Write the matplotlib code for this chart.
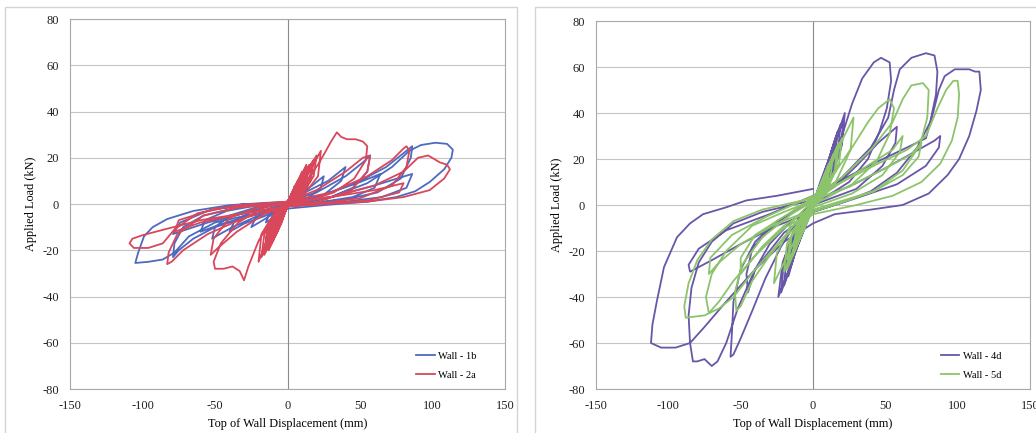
import numpy as np
import matplotlib.pyplot as plt
from matplotlib.patches import Rectangle

plt.rcParams['font.family'] = ['Liberation Serif', 'DejaVu Serif']
plt.rcParams['axes.unicode_minus'] = False

# hysteresis data: (displacement mm, load kN), in test order
wall_1b = [
    (0, 0), (3, 3), (6, 5), (8, 6), (7, 4), (4, 1.5), (0, 0), (-3, -2.5), (-6, -4), (-8, -5), (-7, -3), (-4, -1),
    (0, 0), (5, 4), (10, 7), (15, 10), (13, 6), (8, 2), (0, 0), (-5, -3.5), (-10, -6), (-15, -8), (-13, -5), (-7, -1.5),
    (0, 0), (8, 4), (17, 8), (25, 12), (23, 7), (14, 2.5), (0, -0.5), (-8, -3.5), (-17, -7), (-25, -10), (-22, -6), (-13, -2),
    (0, 0.5), (12, 5), (28, 10), (36, 14), (40, 16), (37, 10), (25, 4), (10, 1), (0, -1), (-15, -5), (-30, -8.5),
    (-40, -12), (-37, -8), (-25, -3), (-10, -0.5),
    (0, 1), (20, 5), (40, 12), (52, 18), (57, 21), (55, 14), (45, 7), (28, 2.5), (0, -1), (-20, -5), (-38, -10),
    (-48, -13.5), (-52, -15), (-50, -10), (-40, -5), (-22, -1.5),
    (0, 1), (25, 4), (48, 9), (60, 12), (64, 13), (60, 7), (45, 3), (25, 1), (0, -1), (-25, -5), (-45, -8.5),
    (-60, -12), (-57, -7), (-42, -3), (-20, -0.5),
    (0, 1), (25, 4), (50, 10), (68, 16), (80, 22), (86, 25), (85, 20), (78, 11), (62, 5), (40, 2), (0, -1),
    (-25, -5), (-50, -10), (-65, -15), (-75, -20), (-79, -23), (-78, -17), (-72, -10), (-58, -5), (-35, -1.5),
    (0, 1), (30, 3), (60, 8), (78, 11.5), (86, 13), (82, 7), (65, 3), (40, 1), (0, -1), (-30, -4), (-55, -8),
    (-72, -11.5), (-79, -13), (-74, -8), (-55, -3), (-30, 0),
    (0, 0), (30, 3), (55, 9), (72, 16), (84, 23), (92, 25.5), (102, 26.5), (110, 26), (114, 23.5), (113, 20),
    (108, 15), (98, 9.5), (88, 5.5), (75, 3), (55, 1), (25, -0.5), (0, -2), (-25, -4.5), (-50, -8), (-68, -14),
    (-78, -21), (-86, -24), (-96, -25), (-105, -25.5), (-103, -21), (-99, -14), (-93, -10), (-83, -6.5),
    (-65, -3), (-40, -0.5), (-15, 0.5), (0, 1),
]

wall_2a = [
    (0, 0), (2, 3), (4, 6), (3, 3), (1, 1), (0, 0), (-2, -3), (-4, -7), (-3, -3), (-1, -1),
    (0, 0), (3, 4), (5, 8), (4, 4), (1, 1), (0, 0), (-3, -5), (-5, -9), (-4, -4), (-1, -1),
    (0, 0), (3, 5), (7, 9), (6, 5), (2, 1), (0, 0), (-3, -5), (-7, -11), (-6, -6), (-2, -1),
    (0, 0), (4, 6), (7, 10), (6, 6), (2, 1), (0, 0), (-3, -5), (-7, -12), (-6, -7), (-2, -1),
    (0, 0), (4, 6), (8, 11), (7, 6), (3, 1), (0, 0), (-4, -6), (-8, -13), (-7, -7), (-3, -1),
    (0, 0), (4, 6), (10, 13), (9, 7), (4, 2), (0, 0), (-4, -7), (-10, -15), (-9, -8), (-4, -2),
    (0, 0), (5, 7), (10, 14), (9, 8), (4, 2), (0, 0), (-4, -8), (-10, -16), (-9, -9), (-4, -2),
    (0, 0), (5, 6), (11, 14), (10, 8), (4, 2), (0, 0), (-5, -8), (-11, -17), (-10, -9), (-4, -2),
    (0, 1), (5, 7), (13, 16), (11, 9), (5, 2), (0, -1), (-5, -8), (-13, -19), (-11, -10), (-5, -2),
    (0, 1), (6, 8), (13, 17), (12, 10), (5, 2), (0, -1), (-5, -9), (-13, -20), (-12, -11), (-5, -3),
    (0, 1), (6, 7), (15, 17), (13, 9), (5, 2), (0, -1), (-6, -9), (-15, -20), (-13, -11), (-5, -2),
    (0, 1), (7, 8), (17, 18), (15, 10), (6, 2), (0, -1), (-6, -10), (-16, -21), (-14, -12), (-6, -3),
    (0, 1), (7, 8), (18, 19), (16, 10), (7, 2), (0, -1), (-6, -9), (-16, -22), (-14, -11), (-6, -2),
    (0, 1), (8, 8), (20, 21), (18, 12), (8, 3), (0, -1), (-7, -10), (-18, -23), (-16, -13), (-7, -3),
    (0, 1), (8, 7), (16, 15), (23, 23), (21, 12), (10, 3), (0, -1), (-8, -9), (-15, -17), (-20, -25),
    (-18, -13), (-8, -3),
    (0, 1), (10, 7), (22, 18), (30, 27), (34, 31), (37, 29), (41, 28), (47, 28), (52, 27), (55, 25), (54, 19),
    (46, 11), (32, 5), (15, 1.5), (0, -1), (-10, -5), (-20, -16), (-27, -27), (-30, -33), (-33, -29), (-38, -27),
    (-44, -28), (-50, -28), (-51, -25), (-46, -17), (-34, -8), (-18, -2),
    (0, 1), (20, 6), (40, 14), (52, 20), (57, 21), (55, 14), (44, 6), (22, 1), (0, -1), (-15, -4), (-35, -12),
    (-48, -19), (-53, -22), (-51, -15), (-40, -6), (-18, -1),
    (0, 1), (30, 5), (55, 12), (72, 19), (80, 24), (82, 25), (84, 23), (82, 16), (72, 8), (50, 2.5), (25, 0.5),
    (0, -1), (-30, -6), (-55, -13), (-72, -20), (-80, -25), (-83, -26), (-82, -21), (-76, -13), (-58, -5),
    (-30, -1),
    (0, 1), (30, 3), (60, 6), (80, 9), (77, 5), (55, 1.5), (0, -1), (-30, -4), (-60, -8), (-78, -12), (-75, -7),
    (-50, -2),
    (0, 0), (30, 3), (60, 8), (80, 14), (90, 20), (97, 21), (105, 18), (110, 17), (112, 15), (108, 11), (98, 6),
    (80, 3), (55, 1), (25, 0), (0, -1), (-30, -4), (-60, -7), (-85, -11), (-100, -13.5), (-107, -15),
    (-109, -17), (-106, -19), (-96, -19), (-86, -17), (-78, -11), (-62, -4), (-35, -0.5), (0, 1),
]

wall_4d = [
    (0, 0), (3, 5), (5, 8), (4, 4), (2, 1), (0, 0), (-3, -5), (-5, -8), (-4, -4), (-2, -1),
    (0, 0), (3, 6), (6, 10), (5, 5), (2, 1), (0, 0), (-3, -5), (-6, -10), (-5, -5), (-2, -1),
    (0, 0), (4, 7), (8, 14), (7, 7), (3, 2), (0, 0), (-4, -7), (-8, -13), (-7, -7), (-3, -2),
    (0, 0), (5, 9), (10, 18), (9, 10), (4, 3), (0, 0), (-5, -8), (-10, -16), (-9, -9), (-4, -3),
    (0, 0), (5, 10), (11, 20), (10, 11), (4, 3), (0, 0), (-5, -9), (-11, -18), (-10, -10), (-4, -3),
    (0, 1), (6, 10), (12, 22), (16, 30), (14, 18), (7, 5), (0, -1), (-6, -10), (-12, -20), (-16, -28),
    (-14, -16), (-7, -5),
    (0, 1), (7, 12), (13, 24), (17, 32), (15, 19), (7, 5), (0, -1), (-7, -12), (-13, -22), (-17, -31),
    (-15, -17), (-7, -5),
    (0, 1), (8, 13), (14, 26), (19, 35), (17, 21), (9, 7), (0, -1), (-8, -12), (-14, -24), (-20, -35),
    (-18, -20), (-9, -6),
    (0, 1), (8, 12), (15, 27), (22, 40), (20, 26), (11, 9), (0, -1), (-8, -11), (-15, -25), (-22, -38),
    (-20, -24), (-11, -8),
    (0, 1), (9, 13), (16, 28), (21, 37), (19, 24), (10, 8), (0, -1), (-9, -13), (-16, -27), (-24, -40),
    (-21, -25), (-11, -8),
    (0, 2), (10, 14), (20, 30), (27, 44), (34, 55), (42, 62), (47, 64), (53, 62), (54, 54), (51, 42), (46, 32),
    (38, 20), (25, 10), (10, 4), (0, 1), (-10, -6), (-22, -18), (-33, -32), (-42, -46), (-50, -58), (-55, -65),
    (-57, -66), (-56, -55), (-55, -42), (-50, -28), (-40, -16), (-25, -7), (-10, -2),
    (0, 2), (15, 8), (30, 17), (45, 27), (58, 34), (57, 27), (48, 17), (30, 7), (0, 0), (-15, -7), (-30, -17),
    (-40, -28), (-45, -38), (-46, -30), (-42, -19), (-28, -9),
    (0, 3), (20, 12), (40, 25), (52, 38), (56, 50), (60, 59), (68, 64), (78, 66), (84, 65), (86, 58), (85, 48),
    (81, 36), (72, 25), (58, 14), (40, 6), (20, 1), (0, -3), (-20, -12), (-40, -28), (-52, -45), (-60, -60),
    (-66, -68), (-70, -70), (-75, -67), (-80, -68), (-83, -68), (-85, -60), (-86, -48), (-84, -36), (-79, -25),
    (-70, -16), (-55, -8), (-35, -3), (-15, 0),
    (0, 2), (25, 8), (50, 16), (70, 23), (84, 28), (88, 30), (87, 25), (78, 17), (58, 9), (30, 3), (0, -3),
    (-25, -9), (-50, -17), (-70, -24), (-85, -29), (-86, -26), (-79, -19), (-60, -11), (-30, -4),
    (0, 4), (20, 11), (45, 19), (65, 25), (78, 29), (83, 40), (87, 50), (91, 56), (98, 59), (108, 59), (112, 58),
    (115, 58), (116, 50), (113, 41), (108, 30), (101, 20), (93, 13), (80, 5), (62, 0), (40, -2), (15, -4), (0, -8),
    (-20, -16), (-40, -28), (-60, -42), (-75, -53), (-85, -60), (-95, -62), (-105, -62), (-112, -60), (-111, -52),
    (-108, -42), (-103, -27), (-94, -14), (-85, -8), (-76, -4), (-60, -1), (-46, 2), (-25, 4), (0, 7),
]

wall_5d = [
    (0, 0), (3, 5), (6, 9), (4, 4), (2, 1), (0, 0), (-3, -5), (-6, -9), (-4, -4), (-2, -1),
    (0, 0), (3, 6), (7, 11), (5, 5), (2, 1), (0, 0), (-3, -6), (-7, -11), (-5, -5), (-2, -1),
    (0, 0), (4, 7), (9, 14), (7, 7), (3, 2), (0, 0), (-4, -7), (-9, -14), (-7, -7), (-3, -2),
    (0, 0), (5, 9), (11, 18), (9, 9), (4, 3), (0, 0), (-5, -9), (-11, -17), (-9, -8), (-4, -3),
    (0, 0), (6, 10), (12, 19), (10, 10), (4, 3), (0, 0), (-6, -10), (-12, -19), (-10, -9), (-4, -3),
    (0, 1), (7, 11), (14, 22), (12, 12), (6, 4), (0, -1), (-7, -11), (-14, -22), (-12, -12), (-6, -4),
    (0, 1), (8, 12), (17, 26), (15, 15), (8, 5), (0, -1), (-8, -12), (-17, -26), (-15, -14), (-8, -5),
    (0, 1), (8, 13), (18, 27), (16, 16), (8, 5), (0, -1), (-8, -13), (-18, -28), (-16, -15), (-8, -5),
    (0, 1), (9, 13), (20, 29), (18, 18), (9, 6), (0, -1), (-9, -13), (-20, -29), (-18, -17), (-9, -6),
    (0, 1), (10, 14), (20, 28), (28, 38), (26, 24), (15, 9), (0, -1), (-10, -12), (-20, -25), (-27, -34),
    (-25, -21), (-14, -7),
    (0, 2), (15, 14), (28, 26), (38, 36), (45, 42), (53, 46), (56, 42), (53, 31), (44, 19), (27, 9), (0, 0),
    (-15, -10), (-30, -22), (-42, -33), (-50, -44), (-53, -46), (-54, -38), (-49, -26), (-35, -14), (-15, -4),
    (0, 2), (20, 10), (40, 18), (55, 24), (62, 30), (60, 23), (48, 13), (27, 5), (0, -1), (-20, -9), (-35, -18),
    (-45, -26), (-50, -30), (-50, -23), (-40, -13), (-20, -5),
    (0, 3), (20, 12), (40, 24), (55, 36), (62, 46), (68, 52), (76, 53), (80, 50), (79, 38), (74, 26), (62, 15),
    (42, 6), (20, 1), (0, -3), (-20, -10), (-40, -22), (-55, -33), (-65, -42), (-72, -47), (-74, -40), (-70, -30),
    (-60, -20), (-42, -9), (-20, -3),
    (0, 2), (25, 8), (50, 16), (68, 22), (75, 27), (73, 21), (62, 13), (42, 6), (0, -2), (-25, -8), (-50, -17),
    (-65, -25), (-72, -30), (-71, -23), (-56, -13), (-32, -5),
    (0, 4), (20, 10), (45, 18), (65, 24), (78, 30), (86, 42), (92, 50), (97, 54), (100, 54), (101, 48), (100, 38),
    (96, 28), (88, 18), (75, 10), (55, 4), (30, 0), (0, -4), (-20, -14), (-40, -28), (-55, -40), (-65, -45),
    (-75, -48), (-88, -49), (-89, -44), (-86, -34), (-80, -24), (-70, -15), (-55, -7), (-35, -2), (0, 3),
]

x_ticks = [-150, -100, -50, 0, 50, 100, 150]
y_ticks = [-80, -60, -40, -20, 0, 20, 40, 60, 80]

panels = [
    ([0.0676, 0.1016, 0.4199, 0.8545], [(wall_1b, 'Wall - 1b', '#4d6ac0'), (wall_2a, 'Wall - 2a', '#d9475b')]),
    ([0.5753, 0.1016, 0.4189, 0.8499], [(wall_4d, 'Wall - 4d', '#6856a8'), (wall_5d, 'Wall - 5d', '#8cc46c')]),
]

fig = plt.figure(figsize=(10.36, 4.33), dpi=100)
fig.patch.set_facecolor('white')

# light chart-area frames like the excel export
for x0, x1 in [(5, 517), (535, 1040)]:
    fig.patches.append(Rectangle((x0 / 1036, -0.02), (x1 - x0) / 1036, (433 - 7) / 433 + 0.02,
                                 transform=fig.transFigure, fill=False,
                                 edgecolor='#d4d4d4', lw=1.0))

for rect, series in panels:
    ax = fig.add_axes(rect)
    for data, name, col in series:
        pts = np.array(data, dtype=float)
        ax.plot(pts[:, 0], pts[:, 1], color=col, lw=1.3, label=name, zorder=3)
    ax.set_xlim(-150, 150)
    ax.set_ylim(-80, 80)
    ax.set_xticks(x_ticks)
    ax.set_yticks(y_ticks)
    ax.yaxis.grid(True, color='#c4c4c4', lw=0.8)
    ax.set_axisbelow(True)
    ax.axvline(0, color='#8a8a8a', lw=0.8, zorder=1)
    for s in ax.spines.values():
        s.set_color('#a8a8a8')
        s.set_linewidth(0.8)
    ax.tick_params(length=0, labelsize=9, colors='#222222', pad=8)
    ax.set_xlabel('Top of Wall Displacement (mm)', fontsize=8.8, labelpad=4)
    ax.set_ylabel('Applied Load (kN)', fontsize=8.8, labelpad=4)
    ax.legend(loc='lower right', bbox_to_anchor=(0.955, 0.0), frameon=False,
              fontsize=7.5, handlelength=1.8, handletextpad=0.3, labelspacing=0.9)

plt.savefig('out.png', dpi=100)
